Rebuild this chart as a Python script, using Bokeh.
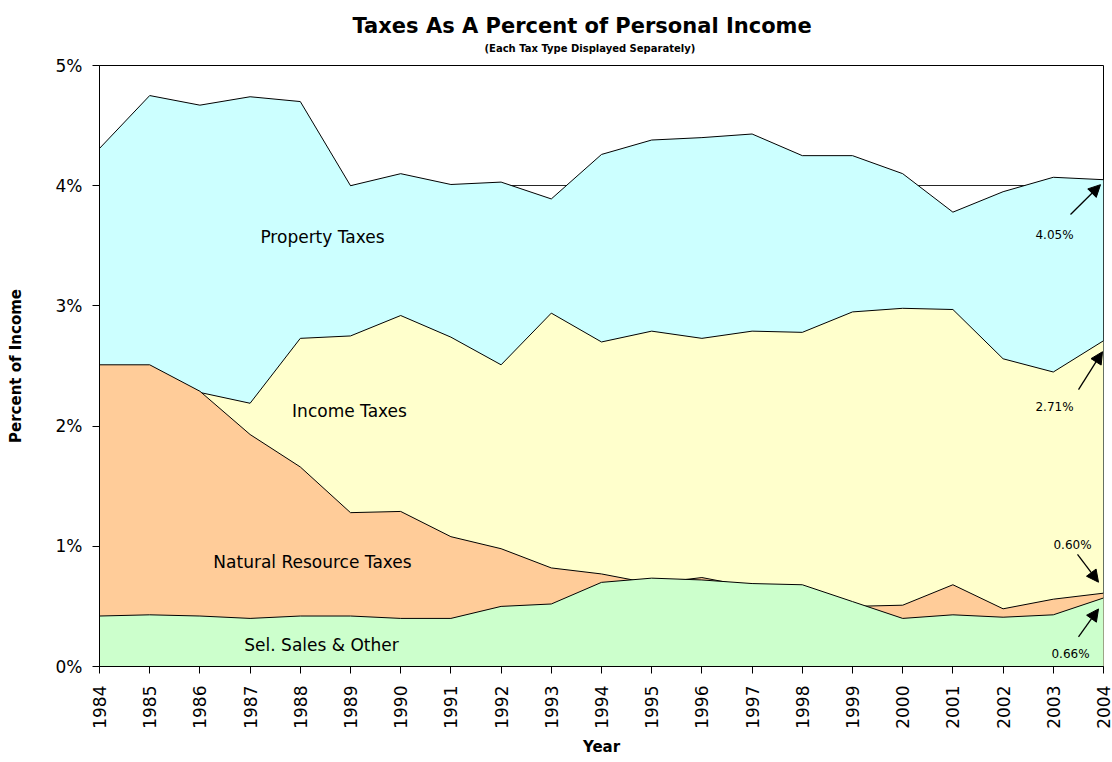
import math
from bokeh.plotting import figure
from bokeh.models import Range1d, FixedTicker, Label, Arrow, NormalHead, CustomJSTickFormatter, Title
from bokeh.embed import file_html
from bokeh.resources import INLINE

# ---------------- data (percent of personal income) ----------------
years = list(range(1984, 2005))
property_taxes = [4.31, 4.75, 4.67, 4.74, 4.70, 4.00, 4.10, 4.01, 4.03, 3.89, 4.26,
                  4.38, 4.40, 4.43, 4.25, 4.25, 4.10, 3.78, 3.95, 4.07, 4.05]
income_taxes = [2.45, 2.47, 2.28, 2.19, 2.73, 2.75, 2.92, 2.74, 2.51, 2.94, 2.70,
                2.79, 2.73, 2.79, 2.78, 2.95, 2.98, 2.97, 2.56, 2.45, 2.71]
natural_resource_taxes = [2.51, 2.51, 2.29, 1.93, 1.66, 1.28, 1.29, 1.08, 0.98, 0.82, 0.77,
                          0.69, 0.74, 0.66, 0.58, 0.50, 0.51, 0.68, 0.48, 0.56, 0.61]
sel_sales_other = [0.42, 0.43, 0.42, 0.40, 0.42, 0.42, 0.40, 0.40, 0.50, 0.52, 0.70,
                   0.735, 0.72, 0.69, 0.68, 0.54, 0.40, 0.43, 0.41, 0.43, 0.57]
series_names = ["Property Taxes", "Income Taxes", "Natural Resource Taxes", "Sel. Sales & Other"]
end_labels = ["4.05%", "2.71%", "0.60%", "0.66%"]
y_ticks = [0, 1, 2, 3, 4, 5]

series_values = [property_taxes, income_taxes, natural_resource_taxes, sel_sales_other]
colors = ["#CCFFFF", "#FFFFCC", "#FFCC99", "#CCFFCC"]

FONT = "DejaVu Sans"
W, H = 1112, 758
# plot frame in page px
PX0, PX1, PY0, PY1 = 99, 1103, 668, 65


def dx(px):
    return years[0] + (px - PX0) * (years[-1] - years[0]) / (PX1 - PX0)


def dy(py):
    return (PY0 - py) * 5 / (PY0 - PY1)


p = figure(width=W, height=H, x_range=Range1d(years[0], years[-1]), y_range=Range1d(0, 5),
           output_backend="svg", toolbar_location=None,
           min_border_left=PX0, min_border_right=W - PX1, min_border_top=PY1,
           min_border_bottom=H - PY0)
p.title.visible = False
p.background_fill_color = "white"
p.border_fill_color = "white"
p.outline_line_color = "black"
p.outline_line_width = 1

# titles (subtitle added first so it sits next to the frame)
p.add_layout(Title(text="(Each Tax Type Displayed Separately)", align="left", offset=385,
                   text_font=FONT, text_font_size="10px", text_font_style="bold",
                   text_color="black", standoff=24), "above")
p.add_layout(Title(text="Taxes As A Percent of Personal Income", align="left", offset=253,
                   text_font=FONT, text_font_size="21px", text_font_style="bold",
                   text_color="black", standoff=-19), "above")

# grid
p.xgrid.visible = False
p.ygrid.ticker = FixedTicker(ticks=y_ticks)
p.ygrid.grid_line_color = "black"
p.ygrid.grid_line_width = 1
p.ygrid.grid_line_alpha = 0.85

# areas (each drawn from zero, overlapping)
for vals, col in zip(series_values, colors):
    p.varea(x=years, y1=[0] * len(years), y2=vals, fill_color=col, fill_alpha=1)
    p.line(x=years, y=vals, line_color="black", line_width=1)

# axes
p.xaxis.ticker = FixedTicker(ticks=years)
p.xaxis.major_label_orientation = math.pi / 2
p.yaxis.ticker = FixedTicker(ticks=y_ticks)
p.yaxis.formatter = CustomJSTickFormatter(code="return tick.toFixed(0) + '%';")
for ax in (p.xaxis[0], p.yaxis[0]):
    ax.axis_line_color = "black"
    ax.major_tick_line_color = "black"
    ax.major_tick_out = 7
    ax.major_tick_in = 0
    ax.minor_tick_line_color = None
    ax.major_label_text_color = "black"
    ax.major_label_text_font = FONT
    ax.major_label_text_font_size = "17px"
    ax.axis_label_text_font = FONT
    ax.axis_label_text_font_style = "bold"
    ax.axis_label_text_color = "black"
    ax.axis_label_text_font_size = "15px"
p.xaxis.major_label_standoff = 12
p.yaxis.major_label_standoff = 10
p.xaxis.axis_label = "Year"
p.xaxis.axis_label_standoff = 6
p.yaxis.axis_label = "Percent of Income"
p.yaxis.axis_label_standoff = 28

# series labels
label_pos = [(322, 237), (349, 412), (312, 563), (321, 646)]
for name, (lx, ly) in zip(series_names, label_pos):
    p.add_layout(Label(x=dx(lx), y=dy(ly), text=name, text_align="center", text_baseline="middle",
                       text_font=FONT, text_font_size="17px", text_color="black"))

# end-value annotations with arrows (offsets relative to the 2004 value, in px)
ann = [  # (label centre), (arrow tail), (arrow tip) relative to end point
    ((-49, 55), (-33, 35), (-3, 5)),
    ((-49, 66), (-25, 49), (-1, 11)),
    ((-31, -48), (-26, -39), (-5, -11)),
    ((-33, 56), (-25, 39), (-5, 11)),
]
for vals, txt, (lab, tail, tip) in zip(series_values, end_labels, ann):
    ey = PY0 - vals[-1] * (PY0 - PY1) / 5
    p.add_layout(Label(x=dx(PX1 + lab[0]), y=dy(ey + lab[1]), text=txt, text_align="center",
                       text_baseline="middle", text_font=FONT, text_font_size="12px",
                       text_color="black"))
    p.add_layout(Arrow(x_start=dx(PX1 + tail[0]), y_start=dy(ey + tail[1]),
                       x_end=dx(PX1 + tip[0]), y_end=dy(ey + tip[1]),
                       line_color="black", line_width=1.3,
                       end=NormalHead(size=12, fill_color="black", line_color="black")))

open("out.html", "w").write(file_html(p, INLINE))
